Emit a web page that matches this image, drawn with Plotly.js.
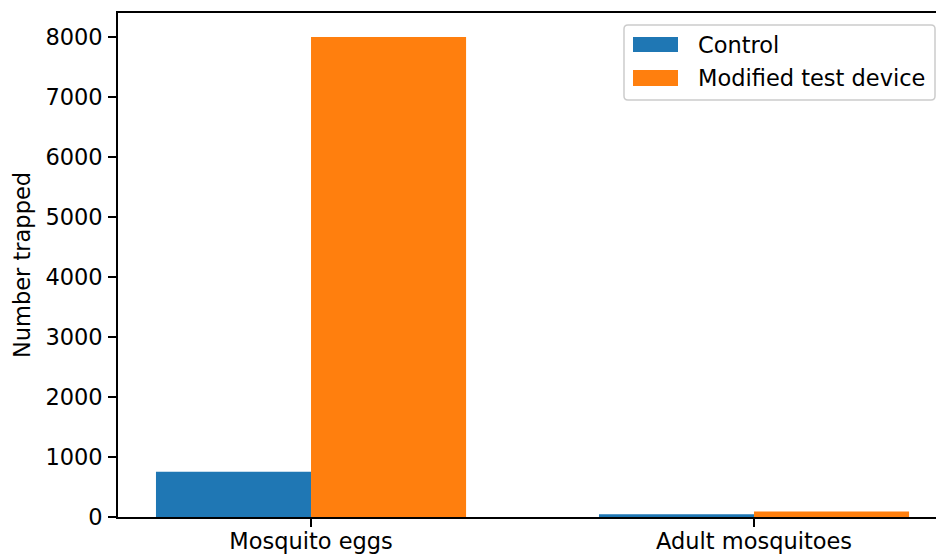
<!DOCTYPE html>
<html>
<head>
<meta charset="utf-8">
<script src="https://cdn.plot.ly/plotly-3.0.1.min.js"></script>
<style>
html,body{margin:0;padding:0;background:#fff;overflow:hidden;}
#chart{width:936px;height:555px;}
</style>
</head>
<body>
<div id="chart"></div>
<script>
// ---- data ----
const categories = ["Mosquito eggs", "Adult mosquitoes"];
const seriesNames = ["Control", "Modified test device"];
const controlValues = [755, 45];
const modifiedValues = [8000, 92];
const yTickValues = [0, 1000, 2000, 3000, 4000, 5000, 6000, 7000, 8000];
const yTitle = "Number trapped";
const colors = ["#1f77b4", "#ff7f0e"];

// ---- layout geometry (pixels) ----
const W = 936, H = 555;
const M = {l: 118, r: 0, t: 13, b: 38};
const PW = W - M.l - M.r, PH = H - M.t - M.b;
const px2x = p => (p - M.l) / PW;
const px2y = p => (H - M.b - p) / PH;
const FONT = "DejaVu Sans, Verdana, sans-serif";
const FS = 22.5;

const traces = [
  {type: "bar", name: seriesNames[0], x: [0, 1], y: controlValues, marker: {color: colors[0], line: {width: 0}}, showlegend: false, hoverinfo: "y+name"},
  {type: "bar", name: seriesNames[1], x: [0, 1], y: modifiedValues, marker: {color: colors[1], line: {width: 0}}, showlegend: false, hoverinfo: "y+name"}
];

// custom matplotlib-like legend
function roundRectPath(x0, y0, x1, y1, r) {
  const X = p => px2x(p).toFixed(5), Y = p => px2y(p).toFixed(5);
  return `M${X(x0 + r)},${Y(y0)} L${X(x1 - r)},${Y(y0)} Q${X(x1)},${Y(y0)} ${X(x1)},${Y(y0 + r)} ` +
         `L${X(x1)},${Y(y1 - r)} Q${X(x1)},${Y(y1)} ${X(x1 - r)},${Y(y1)} ` +
         `L${X(x0 + r)},${Y(y1)} Q${X(x0)},${Y(y1)} ${X(x0)},${Y(y1 - r)} ` +
         `L${X(x0)},${Y(y0 + r)} Q${X(x0)},${Y(y0)} ${X(x0 + r)},${Y(y0)} Z`;
}
const legBox = {x0: 624, y0: 25, x1: 935, y1: 100};
const swatchRows = [{y0: 37, y1: 52}, {y0: 70, y1: 86}];
const shapes = [
  {type: "path", xref: "paper", yref: "paper", path: roundRectPath(legBox.x0, legBox.y0, legBox.x1, legBox.y1, 4),
   fillcolor: "rgba(255,255,255,0.8)", line: {color: "#cccccc", width: 1.5}, layer: "above"}
];
const annotations = [];
seriesNames.forEach((nm, i) => {
  const r = swatchRows[i];
  shapes.push({type: "rect", xref: "paper", yref: "paper", x0: px2x(633), x1: px2x(678), y0: px2y(r.y1), y1: px2y(r.y0),
    fillcolor: colors[i], line: {width: 0}, layer: "above"});
  annotations.push({xref: "paper", yref: "paper", x: px2x(696), y: px2y((r.y0 + r.y1) / 2), text: nm,
    showarrow: false, xanchor: "left", yanchor: "middle", font: {family: FONT, size: FS, color: "#000"}});
});

const layout = {
  width: W, height: H,
  margin: M,
  paper_bgcolor: "#fff", plot_bgcolor: "#fff",
  font: {family: FONT, size: FS, color: "#000"},
  barmode: "group", bargap: 0.3, bargroupgap: 0,
  showlegend: false,
  xaxis: {
    range: [-0.4357, 1.4108],
    tickvals: [0, 1], ticktext: categories,
    showgrid: false, zeroline: false,
    showline: true, linecolor: "#000", linewidth: 1.8, mirror: true,
    ticks: "outside", ticklen: 8, tickwidth: 1.8, tickcolor: "#000",
    ticklabelstandoff: -5,
    tickfont: {family: FONT, size: FS, color: "#000"},
    fixedrange: true
  },
  yaxis: {
    range: [0, 8400],
    tickvals: yTickValues, ticktext: yTickValues.map(String),
    showgrid: false, zeroline: false,
    showline: true, linecolor: "#000", linewidth: 1.8, mirror: false,
    ticks: "outside", ticklen: 8, tickwidth: 1.8, tickcolor: "#000",
    ticklabelstandoff: 1,
    tickfont: {family: FONT, size: FS, color: "#000"},
    title: {text: yTitle, font: {family: FONT, size: FS, color: "#000"}, standoff: 8},
    automargin: false,
    fixedrange: true
  },
  shapes: shapes,
  annotations: annotations
};

Plotly.newPlot("chart", traces, layout, {displayModeBar: false, staticPlot: true});
</script>
</body>
</html>
